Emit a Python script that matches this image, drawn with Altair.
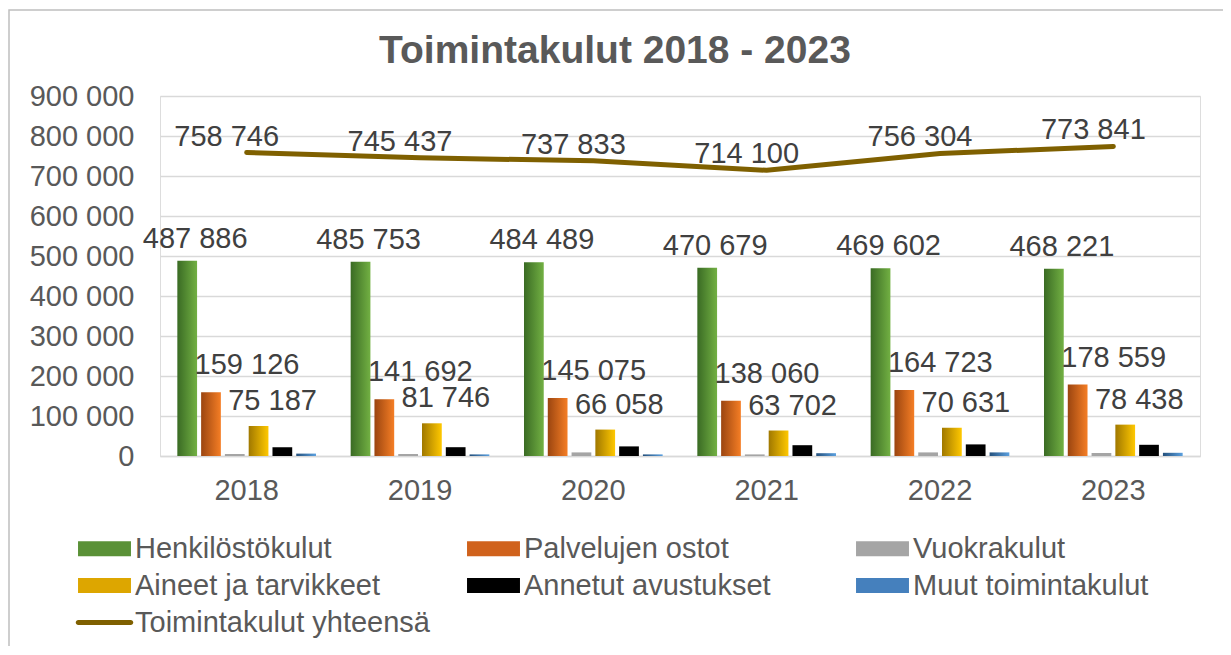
import altair as alt
import pandas as pd

# ---------------- data ----------------
years = ["2018", "2019", "2020", "2021", "2022", "2023"]
series = ["Henkilöstökulut", "Palvelujen ostot", "Vuokrakulut",
          "Aineet ja tarvikkeet", "Annetut avustukset", "Muut toimintakulut"]
total_name = "Toimintakulut yhteensä"

henk = [487886, 485753, 484489, 470679, 469602, 468221]
palv = [159126, 141692, 145075, 138060, 164723, 178559]
vuokra = [5000, 5000, 9000, 4000, 9000, 7500]
aineet = [75187, 81746, 66058, 63702, 70631, 78438]
annetut = [22000, 22000, 24000, 27000, 29000, 28000]
muut = [6000, 4000, 4000, 7000, 9000, 8000]
total = [758746, 745437, 737833, 714100, 756304, 773841]

y_ticks = [0, 100000, 200000, 300000, 400000, 500000, 600000, 700000, 800000, 900000]

# ---------------- styles ----------------
grad_left = ["#3A6B24", "#9B4510", "#A5A5A5", "#A07800", "#000000", "#24507C"]
grad_right = ["#72B043", "#F57E25", "#A5A5A5", "#FFC800", "#000000", "#5BA0DF"]
legend_colors = ["#5A9137", "#D0621C", "#A5A5A5", "#DDA600", "#000000", "#4580BD", "#7F6000"]
bar_path = "M-3.53,-1H3.53V1H-3.53Z"
line_path = "M-3.5,-0.33H3.5A0.33,0.33 0 0 1 3.5,0.33H-3.5A0.33,0.33 0 0 1 -3.5,-0.33Z"
FONT = "Liberation Sans"
TXT = "#595959"
LBL = "#404040"
FS = 29

# ---------------- tables ----------------
rows = []
for s, vals in zip(series, [henk, palv, vuokra, aineet, annetut, muut]):
    for yr, v in zip(years, vals):
        rows.append({"year": yr, "series": s, "value": v})
bars_df = pd.DataFrame(rows)
total_df = pd.DataFrame({"year": years, "series": [total_name] * len(years), "value": total})
all_df = pd.concat([bars_df, total_df], ignore_index=True)

W, H = 1040, 360

x_axis = alt.Axis(title=None, labelAngle=0, ticks=False, grid=False,
                  domainColor="#D9D9D9", domainWidth=1.5,
                  labelFontSize=FS, labelColor=TXT, labelFont=FONT, labelPadding=20)
x_scale = alt.Scale(domain=years, paddingInner=0.2, paddingOuter=0.1)
y_axis = alt.Axis(title=None, values=y_ticks, tickCount=20, format=",d", ticks=False, domain=False,
                  gridColor="#D9D9D9", gridWidth=1.5, labelOverlap=False,
                  labelFontSize=FS, labelColor=TXT, labelFont=FONT, labelPadding=26)
y_scale = alt.Scale(domain=[0, 900000], nice=False)


def X():
    return alt.X("year:N", scale=x_scale, axis=x_axis)


def Y():
    return alt.Y("value:Q", scale=y_scale, axis=y_axis)


xo_enc = alt.XOffset("series:N", scale=alt.Scale(domain=series, paddingInner=0.17, paddingOuter=0))

layers = []

# outer frame (decoration)
frame = alt.Chart(pd.DataFrame({"k": [0]})).mark_rect(
    filled=False, stroke="#BFBFBF", strokeWidth=1.5
).encode(x=alt.value(-151), x2=alt.value(W + 80), y=alt.value(-86), y2=alt.value(H + 260))
layers.append(frame)

# bars, one layer per series for gradient fills
for i, s in enumerate(series):
    grad = alt.Gradient(gradient="linear", x1=0, x2=1, y1=0, y2=0,
                        stops=[alt.GradientStop(color=grad_left[i], offset=0),
                               alt.GradientStop(color=grad_right[i], offset=1)])
    lay = alt.Chart(bars_df).transform_filter(
        alt.datum.series == s
    ).mark_bar(color=grad).encode(x=X(), xOffset=xo_enc, y=Y())
    layers.append(lay)

# total line
line = alt.Chart(total_df).mark_line(color="#7F6000", strokeWidth=5, strokeCap="round").encode(
    x=X(), y=Y())
layers.append(line)

# invisible layer providing the legend
leg = alt.Legend(title=None, orient="none", legendX=-70, legendY=438, columns=3,
                 direction="horizontal",
                 gridAlign="all", columnPadding=37, rowPadding=7,
                 labelFontSize=FS, labelColor=TXT, labelFont=FONT, labelLimit=600,
                 symbolSize=225, symbolOpacity=1, symbolStrokeWidth=0, labelOffset=16)
legend_layer = alt.Chart(all_df).mark_point(filled=True, opacity=0).encode(
    x=X(), y=Y(),
    color=alt.Color("series:N", scale=alt.Scale(domain=series + [total_name], range=legend_colors),
                    sort=series + [total_name], legend=leg),
    shape=alt.Shape("series:N", scale=alt.Scale(domain=series + [total_name],
                                                range=[bar_path] * 6 + [line_path]),
                    sort=series + [total_name], legend=leg),
)
layers.append(legend_layer)


# data labels
def bar_labels(name, dx, dy):
    return alt.Chart(bars_df).transform_filter(alt.datum.series == name).mark_text(
        dx=dx, dy=dy, fontSize=FS, font=FONT, color=LBL, baseline="middle"
    ).encode(x=X(), xOffset=alt.XOffset("series:N"), y=Y(),
             text=alt.Text("value:Q", format=",d"))


layers.append(bar_labels(series[0], 8, -22))
layers.append(bar_labels(series[1], 36, -27))
layers.append(bar_labels(series[3], 14, -25))

total_labels = alt.Chart(total_df).mark_text(
    dx=-20, dy=-16, fontSize=FS, font=FONT, color=LBL, baseline="middle"
).encode(x=X(), y=Y(), text=alt.Text("value:Q", format=",d"))
layers.append(total_labels)

chart = alt.layer(*layers).properties(
    width=W, height=H,
    title=alt.TitleParams("Toimintakulut 2018 - 2023", fontSize=39, font=FONT, fontWeight="bold",
                          color=TXT, anchor="middle", dx=-65, offset=-62),
    autosize=alt.AutoSizeParams(type="none"),
    padding={"left": 152, "top": 88, "right": 23, "bottom": 190},
).configure_view(stroke=None).configure(
    locale={"number": {"decimal": ",", "thousands": " ", "grouping": [3], "currency": ["", " €"]}}
)

chart.save("out.html", embed_options={"renderer": "svg", "actions": False})
